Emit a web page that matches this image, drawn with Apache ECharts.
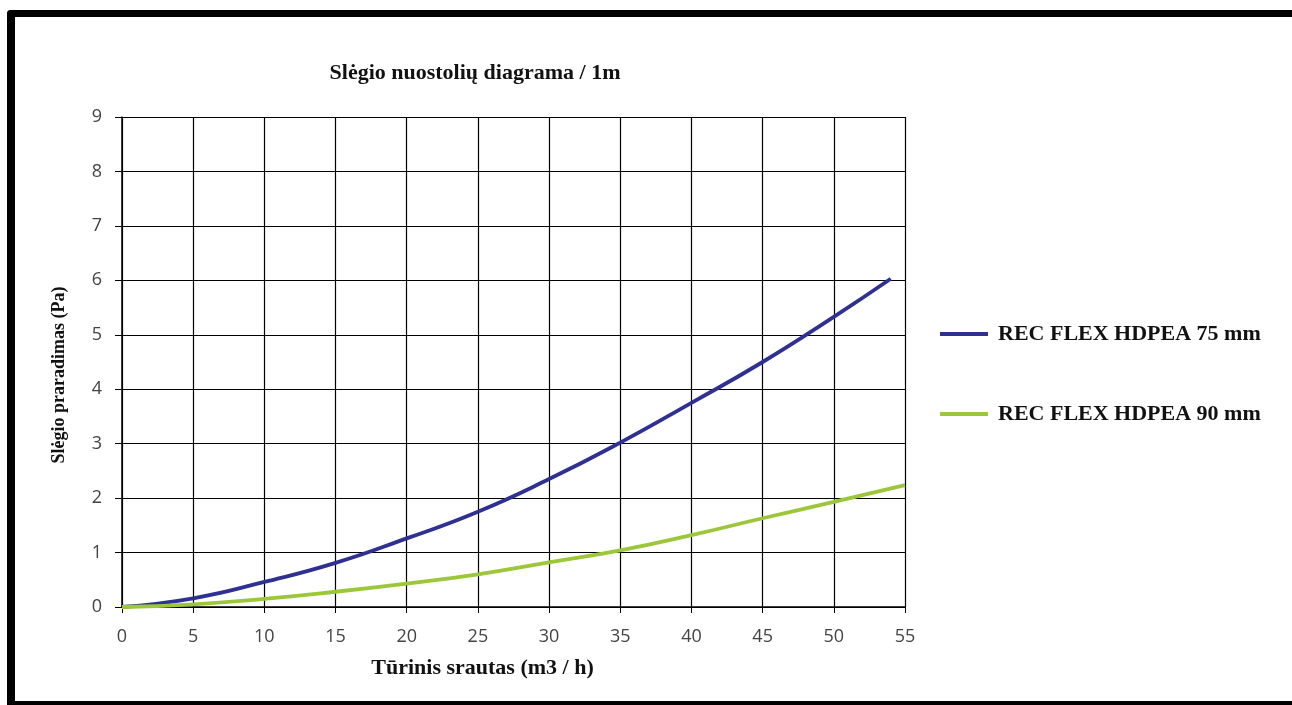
<!DOCTYPE html>
<html>
<head>
<meta charset="utf-8">
<script src="https://cdn.jsdelivr.net/npm/echarts@6/dist/echarts.min.js"></script>
<style>
html,body{margin:0;padding:0;background:#fff;}
#c{width:1292px;height:705px;}
</style>
</head>
<body>
<div id="c"></div>
<script>
const titleText = 'Slėgio nuostolių diagrama / 1m';
const xName = 'Tūrinis srautas (m3 / h)';
const yName = 'Slėgio praradimas (Pa)';
const seriesNames = ['REC FLEX HDPEA 75 mm', 'REC FLEX HDPEA 90 mm'];
const flow75 = [0, 5, 10, 15, 20, 25, 30, 35, 40, 45, 50, 54];
const loss75 = [0, 0.16, 0.46, 0.81, 1.26, 1.75, 2.35, 3.02, 3.75, 4.5, 5.33, 6.03];
const flow90 = [0, 5, 10, 15, 20, 25, 30, 35, 40, 45, 50, 55];
const loss90 = [0, 0.05, 0.15, 0.28, 0.43, 0.6, 0.82, 1.04, 1.32, 1.63, 1.93, 2.24];
const colors = ['#2E3192', '#9DC73A'];

const pairs = (xs, ys) => xs.map((x, i) => [x, ys[i]]);
const serif = '"Liberation Serif", "DejaVu Serif", serif';
const sans = '"Open Sans", "Noto Sans", sans-serif';

const chart = echarts.init(document.getElementById('c'));
chart.setOption({
  animation: false,
  backgroundColor: '#fff',
  title: {
    text: titleText,
    left: 470,
    top: 57,
    textAlign: 'center',
    textStyle: { fontFamily: serif, fontWeight: 'bold', fontSize: 22, color: '#111' }
  },
  legend: {
    orient: 'vertical',
    left: 935,
    top: 318,
    icon: 'rect',
    itemWidth: 48,
    itemHeight: 4,
    itemGap: 58,
    data: seriesNames,
    textStyle: { fontFamily: serif, fontWeight: 'bold', fontSize: 22, color: '#111', padding: [0, 0, 0, 5] }
  },
  grid: { left: 122, right: 387, top: 117, bottom: 98, containLabel: false },
  xAxis: {
    type: 'value',
    min: 0, max: 55, interval: 5,
    name: xName,
    nameLocation: 'middle',
    nameGap: 50,
    nameTextStyle: { fontFamily: serif, fontWeight: 'bold', fontSize: 22, color: '#111', padding: [0, 62, 0, 0] },
    axisLine: { show: true, lineStyle: { color: '#000', width: 1.5 } },
    axisTick: { show: true, length: 6, lineStyle: { color: '#000' } },
    axisLabel: { margin: 21, fontFamily: sans, fontSize: 18, color: '#444' },
    splitLine: { show: true, lineStyle: { color: '#000', width: 1.2 } }
  },
  yAxis: {
    type: 'value',
    min: 0, max: 9, interval: 1,
    name: yName,
    nameLocation: 'middle',
    nameGap: 54,
    nameTextStyle: { fontFamily: serif, fontWeight: 'bold', fontSize: 18, color: '#111', padding: [0, 26, 0, 0] },
    axisLine: { show: true, lineStyle: { color: '#000', width: 1.5 } },
    axisTick: { show: true, length: 7, lineStyle: { color: '#000' } },
    axisLabel: { margin: 20, fontFamily: sans, fontSize: 18, color: '#444' },
    splitLine: { show: true, lineStyle: { color: '#000', width: 1.2 } }
  },
  series: [
    {
      name: seriesNames[0], type: 'line', smooth: true, showSymbol: false,
      data: pairs(flow75, loss75),
      itemStyle: { color: colors[0] },
      lineStyle: { color: colors[0], width: 3.8 }
    },
    {
      name: seriesNames[1], type: 'line', smooth: true, showSymbol: false,
      data: pairs(flow90, loss90),
      itemStyle: { color: colors[1] },
      lineStyle: { color: colors[1], width: 3.8 }
    }
  ],
  graphic: [
    { type: 'rect', shape: { x: 7, y: 10, width: 1300, height: 7, r: [4, 0, 0, 0] }, style: { fill: '#000' }, silent: true },
    { type: 'rect', shape: { x: 7, y: 10, width: 8, height: 700, r: [4, 0, 0, 0] }, style: { fill: '#000' }, silent: true },
    { type: 'rect', shape: { x: 7, y: 701, width: 1300, height: 10 }, style: { fill: '#000' }, silent: true }
  ]
});
</script>
</body>
</html>
